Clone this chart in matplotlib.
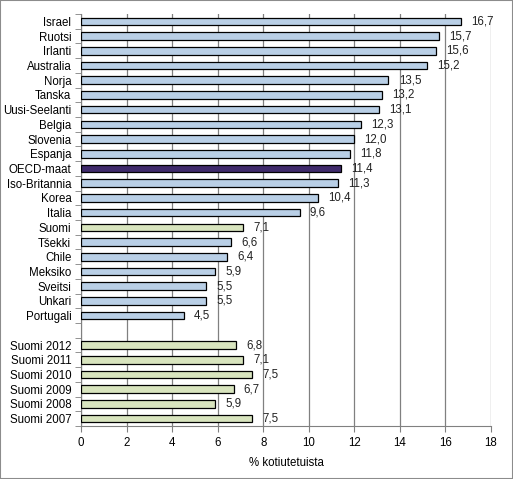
import matplotlib
matplotlib.use("Agg")
import matplotlib.pyplot as plt
from matplotlib.patches import Rectangle

plt.rcParams['font.family'] = ['Liberation Sans', 'DejaVu Sans']

categories = ["Israel", "Ruotsi", "Irlanti", "Australia", "Norja", "Tanska",
              "Uusi-Seelanti", "Belgia", "Slovenia", "Espanja", "OECD-maat",
              "Iso-Britannia", "Korea", "Italia", "Suomi", "Tšekki", "Chile",
              "Meksiko", "Sveitsi", "Unkari", "Portugali", "",
              "Suomi 2012", "Suomi 2011", "Suomi 2010", "Suomi 2009",
              "Suomi 2008", "Suomi 2007"]
values = [16.7, 15.7, 15.6, 15.2, 13.5, 13.2, 13.1, 12.3, 12.0, 11.8, 11.4,
          11.3, 10.4, 9.6, 7.1, 6.6, 6.4, 5.9, 5.5, 5.5, 4.5, None,
          6.8, 7.1, 7.5, 6.7, 5.9, 7.5]
kinds = ["c"] * 10 + ["o"] + ["c"] * 3 + ["f"] + ["c"] * 6 + [None] + ["f"] * 6

colors = {"c": "#B9CFE6", "o": "#3F2A6B", "f": "#D8E4BE"}

fig = plt.figure(figsize=(5.13, 4.79), dpi=100)
fig.patches.append(Rectangle((0, 0), 1, 1, transform=fig.transFigure,
                             fill=False, edgecolor="#8C8C8C", linewidth=1.5))
ax = fig.add_axes([81/513, 1-426/479, 410/513, 412/479])

n = len(categories)
ys = list(range(n))
for y, v, k in zip(ys, values, kinds):
    if v is None:
        continue
    ax.barh(y, v, height=0.52, color=colors[k], edgecolor="black", linewidth=0.9, zorder=3)
    ax.text(v + 0.45, y, f"{v:.1f}".replace(".", ","), va="center", ha="left",
            fontsize=8.3, color="#222222", zorder=4)

ax.set_ylim(n - 0.5, -0.5)
ax.set_xlim(0, 18)
ax.set_xticks(range(0, 19, 2))
ax.set_yticks(ys)
ax.set_yticklabels(categories, fontsize=8.3)
ax.set_yticks([i - 0.5 for i in range(n + 1)], minor=True)
ax.tick_params(axis="y", which="major", length=0, pad=7)
ax.tick_params(axis="y", which="minor", length=4, color="#808080", direction="out")
ax.tick_params(axis="x", length=4, color="#808080", labelsize=8.3, pad=4)
ax.grid(axis="x", color="#808080", linewidth=0.9, zorder=0)
for s in ["top", "right"]:
    ax.spines[s].set_visible(False)
for s in ["left", "bottom"]:
    ax.spines[s].set_color("#808080")
ax.set_xlabel("% kotiutetuista", fontsize=8.3, labelpad=6)

fig.savefig("out.png", dpi=100)
